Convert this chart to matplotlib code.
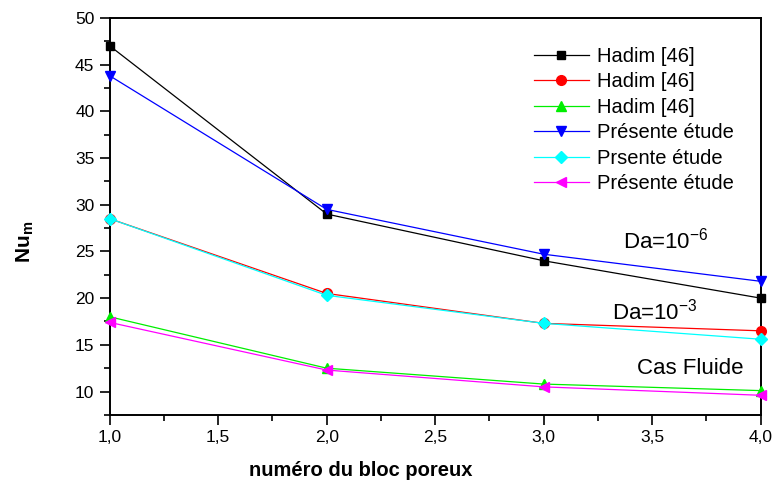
import numpy as np
import matplotlib
matplotlib.use("Agg")
import matplotlib.pyplot as plt
from matplotlib.ticker import MultipleLocator, FuncFormatter

plt.rcParams['font.family'] = ['Liberation Sans', 'DejaVu Sans']
plt.rcParams['mathtext.default'] = 'regular'

blocs = [1, 2, 3, 4]
hadim_da6 = [47.0, 29.0, 24.0, 20.0]
hadim_da3 = [28.5, 20.5, 17.3, 16.5]
hadim_fluide = [18.0, 12.5, 10.8, 10.1]
present_da6 = [43.8, 29.5, 24.7, 21.8]
present_da3 = [28.5, 20.3, 17.3, 15.6]
present_fluide = [17.4, 12.3, 10.5, 9.6]

labels = ["Hadim [46]", "Hadim [46]", "Hadim [46]",
          "Présente étude", "Prsente étude", "Présente étude"]
colors = ["black", "red", "#00ee00", "blue", "cyan", "magenta"]
markers = ["s", "o", "^", "v", "D", "<"]
sizes = [6, 7, 7, 7, 6, 7]
series = [hadim_da6, hadim_da3, hadim_fluide, present_da6, present_da3, present_fluide]

fig = plt.figure(figsize=(7.73, 4.83), dpi=100)
ax = fig.add_axes([0.142, 0.141, 0.842, 0.822])

for ys, lab, c, m, s in zip(series, labels, colors, markers, sizes):
    ax.plot(blocs, ys, color=c, marker=m, markersize=s, linewidth=0.9,
            label=lab, clip_on=False, zorder=3)

ax.set_xlim(1, 4)
ax.set_ylim(7.5, 50)
ax.xaxis.set_major_locator(MultipleLocator(0.5))
ax.xaxis.set_minor_locator(MultipleLocator(0.25))
ax.yaxis.set_major_locator(MultipleLocator(5))
ax.yaxis.set_minor_locator(MultipleLocator(2.5))
ax.xaxis.set_major_formatter(FuncFormatter(lambda v, p: f"{v:.1f}".replace(".", ",")))
ax.yaxis.set_major_formatter(FuncFormatter(lambda v, p: f"{v:.0f}"))
ax.tick_params(which='both', direction='out', top=False, right=False, labelsize=12.5, width=1.2)
ax.tick_params(which='major', length=7, pad=4)
ax.tick_params(which='minor', length=4)
for sp in ax.spines.values():
    sp.set_linewidth(1.4)

# axis titles placed in figure coordinates
fig.text(0.467, 0.0145, "numéro du bloc poreux", fontsize=14.5, fontweight='bold',
         ha='center', va='baseline')
fig.text(0.033, 0.5, r"Nu$_{m}$", fontsize=15, fontweight='bold', rotation=90,
         ha='center', va='center')

ax.text(3.364, 26.2, r"Da=10$^{-6}$", fontsize=16, va='center')
ax.text(3.313, 18.55, r"Da=10$^{-3}$", fontsize=16, va='center')
ax.text(3.43, 12.5, "Cas Fluide", fontsize=16, va='center')

ax.legend(loc='upper left', bbox_to_anchor=(0.639, 0.947), frameon=False, fontsize=14.5,
          handlelength=2.73, handletextpad=0.4, labelspacing=0.32, numpoints=1,
          borderaxespad=0)

fig.savefig("out.png", dpi=100)
